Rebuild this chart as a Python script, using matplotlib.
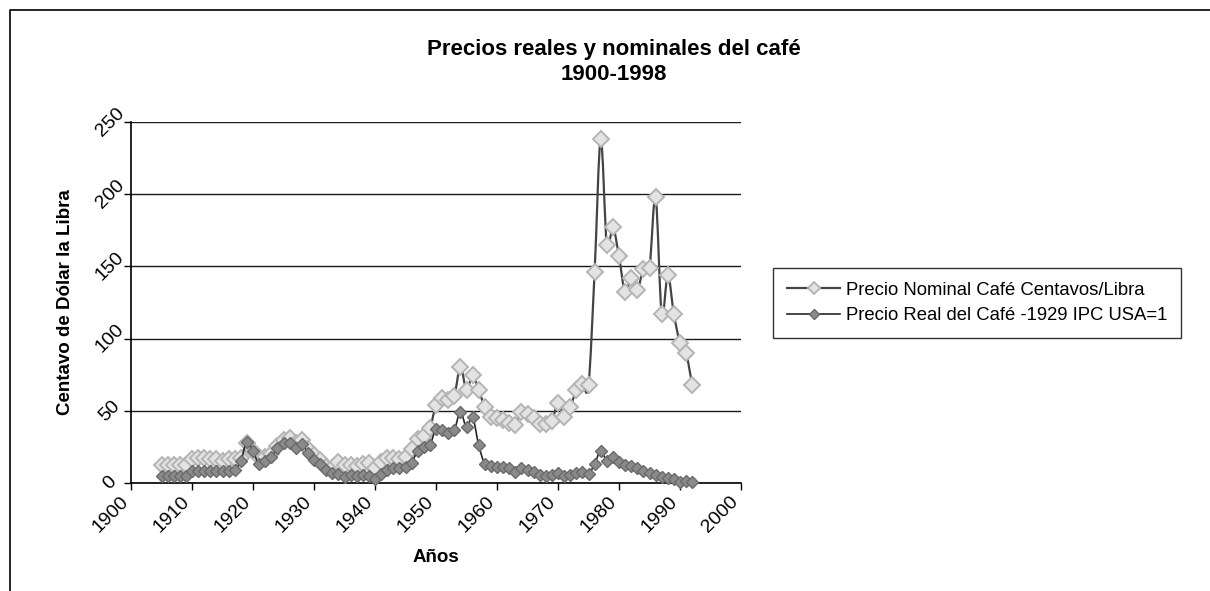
import matplotlib
matplotlib.use("Agg")
import matplotlib.pyplot as plt
import matplotlib.transforms as mtransforms
import numpy as np
from matplotlib.path import Path
from matplotlib.patches import PathPatch
from matplotlib.lines import Line2D

# %% data
years = list(range(1905, 1993))

nominal = [
    12.6, 12.6, 12.6, 12.6, 12.6, 16.5, 17.3, 17.3, 16.5, 16.5,   # 1905-1914
    15.5, 17.0, 16.5, 17.5, 28.0, 22.0, 18.0, 18.5, 20.0, 25.5,   # 1915-1924
    29.9, 31.0, 27.6, 30.0, 24.0, 19.5, 16.0, 11.5, 10.3, 15.0,   # 1925-1934
    12.6, 12.6, 12.0, 13.3, 13.8, 10.3, 15.0, 17.2, 17.2, 17.0,   # 1935-1944
    18.4, 23.5, 30.4, 32.7, 38.0, 54.1, 58.7, 57.6, 60.4, 80.6,   # 1945-1954
    64.5, 74.8, 64.5, 52.9, 46.0, 45.0, 44.0, 42.0, 40.3, 49.6,   # 1955-1964
    48.0, 45.0, 41.0, 41.0, 43.0, 55.3, 46.0, 52.5, 64.5, 69.0,   # 1965-1974
    67.9, 146.0, 238.0, 165.0, 177.0, 157.0, 132.0, 142.0, 134.0, 148.0,  # 1975-1984
    149.0, 198.0, 117.0, 144.0, 117.0, 97.0, 90.0, 68.0,          # 1985-1992
]

real = [
    5.0, 5.0, 5.0, 5.0, 5.0, 8.7, 8.7, 8.7, 8.7, 8.7,             # 1905-1914
    8.5, 8.5, 9.0, 15.4, 28.8, 22.0, 13.3, 15.6, 18.0, 24.6,      # 1915-1924
    27.6, 28.0, 24.2, 27.2, 21.2, 16.1, 13.3, 9.2, 6.9, 6.4,      # 1925-1934
    4.1, 5.7, 5.0, 5.7, 5.0, 3.0, 6.4, 9.4, 10.4, 10.4,           # 1935-1944
    11.3, 14.2, 22.5, 24.9, 26.5, 37.5, 36.8, 34.9, 36.8, 49.5,   # 1945-1954
    38.7, 45.6, 26.5, 13.3, 12.2, 11.5, 11.1, 10.4, 8.0, 10.4,    # 1955-1964
    9.2, 8.0, 5.7, 5.2, 5.7, 6.9, 5.2, 5.7, 6.9, 8.0,             # 1965-1974
    6.4, 13.3, 22.5, 15.6, 17.9, 14.9, 12.6, 11.9, 10.4, 8.8,     # 1975-1984
    6.9, 5.8, 4.1, 3.4, 2.7, 1.2, 1.8, 1.2,                       # 1985-1992
]

series_labels = ["Precio Nominal Café Centavos/Libra",
                 "Precio Real del Café -1929 IPC USA=1"]

x_ticks = list(range(1900, 2001, 10))
y_ticks = list(range(0, 251, 50))

title = "Precios reales y nominales del café\n1900-1998"
xlabel = "Años"
ylabel = "Centavo de Dólar la Libra"

# %%
def smoothPath(x, y) -> Path:
    """Smoothed line (like Excel's) as cubic bezier through the points"""
    pts = np.column_stack([x, y]).astype(float)
    verts = [pts[0]]
    codes = [Path.MOVETO]
    n = len(pts)
    for i in range(n - 1):
        p0 = pts[i - 1] if i > 0 else pts[i]
        p1 = pts[i]
        p2 = pts[i + 1]
        p3 = pts[i + 2] if i + 2 < n else pts[i + 1]
        c1 = p1 + (p2 - p0) / 6.0
        c2 = p2 - (p3 - p1) / 6.0
        verts += [c1, c2, p2]
        codes += [Path.CURVE4] * 3
    return Path(verts, codes)


plt.rcParams['font.family'] = ['Liberation Sans', 'DejaVu Sans']

fig = plt.figure(figsize=(12.10, 5.91), dpi=100)
ax = fig.add_axes([131 / 1210, 1 - 483.3 / 591, 610 / 1210, 361.5 / 591])

styles = [
    dict(line='#444444', lw=1.6, face='#e3e3e3', edge='#b4b4b4', ms=8.0, mew=1.4),
    dict(line='#262626', lw=1.2, face='#8a8a8a', edge='#6a6a6a', ms=6.3, mew=1.0),
]

handles = []
for vals, st, z in zip([nominal, real], styles, [3, 5]):
    ax.add_patch(PathPatch(smoothPath(years, vals), facecolor='none',
                           edgecolor=st['line'], lw=st['lw'], zorder=z))
    ax.plot(years, vals, linestyle='none', marker='D', ms=st['ms'],
            mfc=st['face'], mec=st['edge'], mew=st['mew'], zorder=z + 1,
            clip_on=False)
    handles.append(Line2D([], [], color=st['line'], lw=st['lw'], marker='D',
                          ms=st['ms'] * 0.75, mfc=st['face'], mec=st['edge'],
                          mew=st['mew']))

ax.set_xlim(1900, 2000)
ax.set_ylim(0, 250)
ax.set_xticks(x_ticks)
ax.set_yticks(y_ticks)
ax.set_xticklabels([str(t) for t in x_ticks], rotation=45, ha='right',
                   rotation_mode='anchor', fontsize=14)
ax.set_yticklabels([str(t) for t in y_ticks], rotation=45, ha='center',
                   va='center', rotation_mode='anchor', fontsize=14)
ax.tick_params(axis='both', direction='out', length=5, width=1, color='black')
ax.tick_params(axis='x', pad=4)
ax.tick_params(axis='y', pad=10)

# Excel puts the end of the rotated label right under the tick
shift_x = mtransforms.ScaledTranslation(-11 / 100, 3 / 100, fig.dpi_scale_trans)
for lab in ax.get_xticklabels():
    lab.set_transform(lab.get_transform() + shift_x)

ax.grid(axis='y', color='#1a1a1a', lw=1)
ax.set_axisbelow(True)
for side in ['top', 'right']:
    ax.spines[side].set_visible(False)
ax.spines['left'].set_linewidth(1.2)
ax.spines['bottom'].set_linewidth(1.2)

ax.set_xlabel(xlabel, fontsize=13.5, fontweight='bold', va='center')
ax.xaxis.set_label_coords(0.5, -(558 - 483.3) / 361.5)
ax.set_ylabel(ylabel, fontsize=13.5, fontweight='bold', va='center')
ax.yaxis.set_label_coords((65 - 131) / 610, 0.5)

fig.text(614 / 1210, 1 - 62 / 591, title, ha='center', va='center',
         fontsize=16, fontweight='bold', linespacing=1.3)

leg = fig.legend(handles, series_labels, loc='upper left',
                 bbox_to_anchor=(773 / 1210, 1 - 268 / 591),
                 fontsize=13.3, frameon=True, fancybox=False,
                 edgecolor='black', handlelength=2.9, borderaxespad=0,
                 borderpad=0.75, labelspacing=0.45, handletextpad=0.3)
leg.get_frame().set_linewidth(1.0)

# chart area border
fig.add_artist(Line2D([10 / 1210, 10 / 1210, 1], [0, 1 - 10 / 591, 1 - 10 / 591],
                      transform=fig.transFigure, color='black', lw=1.2))

fig.savefig("out.png", dpi=100)
